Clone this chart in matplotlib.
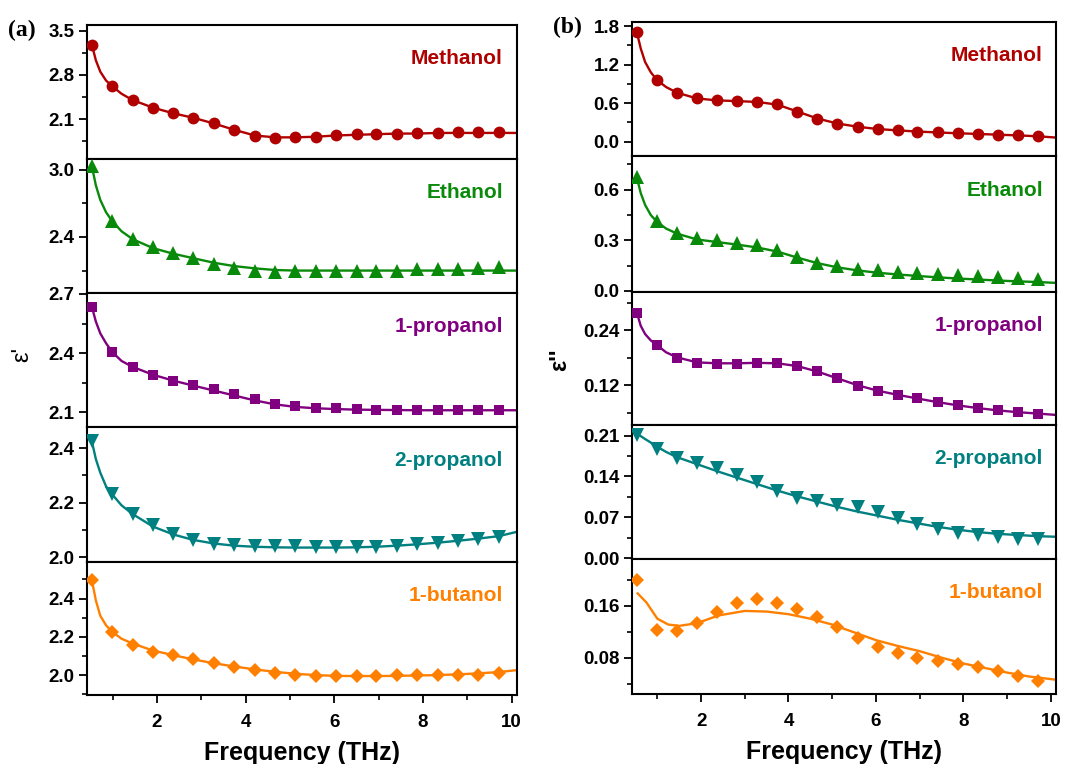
import matplotlib
matplotlib.use("Agg")
import matplotlib.pyplot as plt
from matplotlib.ticker import MultipleLocator, FixedLocator, FormatStrFormatter

plt.rcParams['font.family'] = ['Liberation Sans', 'DejaVu Sans']

# ---------------- data ----------------
freq = [0.53, 0.99, 1.45, 1.91, 2.37, 2.82, 3.28, 3.74, 4.20, 4.66, 5.12,
        5.58, 6.04, 6.50, 6.95, 7.41, 7.87, 8.33, 8.79, 9.25, 9.71]

names = ["Methanol", "Ethanol", "1-propanol", "2-propanol", "1-butanol"]
colors = ["#B00000", "#0A8A0A", "#800080", "#008080", "#FF8000"]
markers = ["o", "^", "s", "v", "D"]
msizes = [8.5, 9.5, 7.5, 9.5, 7.5]

# real part eps'
eps_r_methanol = [3.28, 2.62, 2.40, 2.28, 2.19, 2.12, 2.03, 1.93, 1.83, 1.80, 1.81,
                  1.82, 1.84, 1.86, 1.86, 1.87, 1.88, 1.88, 1.89, 1.89, 1.89]
eps_r_ethanol = [3.03, 2.54, 2.38, 2.31, 2.26, 2.21, 2.16, 2.12, 2.10, 2.09, 2.10,
                 2.10, 2.10, 2.10, 2.10, 2.10, 2.11, 2.11, 2.11, 2.12, 2.13]
eps_r_1prop = [2.635, 2.405, 2.33, 2.29, 2.26, 2.24, 2.22, 2.19, 2.165, 2.14, 2.13,
               2.12, 2.12, 2.117, 2.113, 2.113, 2.112, 2.112, 2.112, 2.11, 2.11]
eps_r_2prop = [2.425, 2.231, 2.158, 2.117, 2.086, 2.064, 2.049, 2.043, 2.042, 2.042, 2.039,
               2.038, 2.037, 2.036, 2.038, 2.042, 2.047, 2.052, 2.059, 2.066, 2.074]
eps_r_1but = [2.496, 2.226, 2.155, 2.122, 2.104, 2.083, 2.064, 2.040, 2.026, 2.012, 2.002,
              1.995, 1.995, 1.995, 1.997, 1.998, 1.998, 1.998, 1.998, 2.002, 2.009]

# imaginary part eps''
eps_i_methanol = [1.706, 0.960, 0.762, 0.673, 0.642, 0.631, 0.621, 0.584, 0.464, 0.355, 0.277,
                  0.230, 0.193, 0.177, 0.157, 0.146, 0.130, 0.120, 0.110, 0.099, 0.083]
eps_i_ethanol = [0.674, 0.414, 0.344, 0.312, 0.300, 0.284, 0.270, 0.244, 0.200, 0.168, 0.148,
                 0.132, 0.122, 0.114, 0.108, 0.102, 0.092, 0.086, 0.082, 0.078, 0.072]
eps_i_1prop = [0.279, 0.209, 0.180, 0.169, 0.166, 0.166, 0.168, 0.169, 0.162, 0.151, 0.135,
               0.118, 0.107, 0.099, 0.091, 0.084, 0.076, 0.071, 0.065, 0.062, 0.058]
eps_i_2prop = [0.211, 0.187, 0.172, 0.163, 0.154, 0.143, 0.130, 0.116, 0.104, 0.098, 0.092,
               0.088, 0.080, 0.069, 0.058, 0.051, 0.044, 0.040, 0.036, 0.034, 0.033]
eps_i_1but = [0.1995, 0.1226, 0.121, 0.1328, 0.1497, 0.1646, 0.170, 0.1646, 0.1549, 0.143, 0.127,
              0.111, 0.096, 0.0867, 0.079, 0.0748, 0.0697, 0.0661, 0.0595, 0.0523, 0.0446]

# fitted curves
fit_x_a = [0.53, 0.62, 0.72, 0.85, 0.99, 1.2, 1.45, 1.91, 2.37, 2.82, 3.28, 3.74, 4.20,
           4.66, 5.12, 5.58, 6.04, 6.50, 6.95, 7.41, 7.87, 8.33, 8.79, 9.25, 9.71, 10.12]
fit_r_methanol = [3.28, 3.03, 2.85, 2.71, 2.62, 2.50, 2.40, 2.28, 2.19, 2.12, 2.03, 1.93, 1.84,
                  1.81, 1.81, 1.82, 1.84, 1.85, 1.86, 1.87, 1.87, 1.88, 1.88, 1.88, 1.88, 1.88]
fit_r_ethanol = [3.03, 2.86, 2.73, 2.62, 2.54, 2.45, 2.38, 2.30, 2.25, 2.21, 2.17, 2.14, 2.12,
                 2.105, 2.10, 2.10, 2.10, 2.10, 2.10, 2.10, 2.10, 2.10, 2.10, 2.10, 2.10, 2.10]
fit_r_1prop = [2.635, 2.56, 2.50, 2.45, 2.405, 2.36, 2.33, 2.29, 2.26, 2.235, 2.21, 2.185, 2.16,
               2.14, 2.127, 2.12, 2.116, 2.113, 2.112, 2.111, 2.11, 2.11, 2.11, 2.11, 2.11, 2.11]
fit_r_2prop = [2.425, 2.36, 2.31, 2.26, 2.23, 2.19, 2.158, 2.112, 2.083, 2.063, 2.050, 2.042, 2.038,
               2.036, 2.035, 2.035, 2.035, 2.036, 2.038, 2.042, 2.047, 2.053, 2.060, 2.068, 2.077, 2.093]
fit_r_1but = [2.496, 2.39, 2.31, 2.26, 2.226, 2.19, 2.165, 2.128, 2.104, 2.082, 2.062, 2.045, 2.030,
              2.017, 2.007, 2.000, 1.996, 1.995, 1.995, 1.996, 1.998, 2.000, 2.004, 2.009, 2.016, 2.026]

fit_i_methanol = [1.706, 1.45, 1.24, 1.08, 0.960, 0.85, 0.762, 0.672, 0.642, 0.631, 0.618, 0.577,
                  0.470, 0.360, 0.282, 0.232, 0.196, 0.175, 0.157, 0.143, 0.130, 0.120, 0.108,
                  0.097, 0.083, 0.063]
fit_i_ethanol = [0.674, 0.58, 0.51, 0.45, 0.410, 0.37, 0.340, 0.305, 0.290, 0.275, 0.258, 0.234,
                 0.198, 0.165, 0.140, 0.122, 0.108, 0.098, 0.089, 0.081, 0.074, 0.068, 0.062,
                 0.057, 0.053, 0.048]
fit_i_1prop = [0.279, 0.250, 0.232, 0.218, 0.208, 0.192, 0.181, 0.170, 0.168, 0.168, 0.169, 0.168,
               0.162, 0.150, 0.135, 0.120, 0.108, 0.099, 0.091, 0.083, 0.076, 0.070, 0.065,
               0.061, 0.058, 0.055]
fit_i_2prop = [0.213, 0.209, 0.204, 0.198, 0.191, 0.182, 0.173, 0.161, 0.149, 0.138, 0.127, 0.116,
               0.106, 0.097, 0.088, 0.080, 0.073, 0.066, 0.060, 0.054, 0.049, 0.045, 0.042,
               0.040, 0.038, 0.037]
fit_i_1but_x = [0.55, 0.75, 1.0, 1.25, 1.5, 1.9, 2.4, 3.0, 3.5, 4.0, 4.5, 5.0, 5.5, 6.0, 6.5,
                7.0, 7.5, 8.0, 8.5, 9.0, 9.5, 10.12]
fit_i_1but = [0.179, 0.165, 0.140, 0.131, 0.129, 0.133, 0.145, 0.152, 0.151, 0.147, 0.140, 0.131,
              0.119, 0.107, 0.098, 0.090, 0.080, 0.071, 0.064, 0.057, 0.051, 0.046]

real_data = [eps_r_methanol, eps_r_ethanol, eps_r_1prop, eps_r_2prop, eps_r_1but]
imag_data = [eps_i_methanol, eps_i_ethanol, eps_i_1prop, eps_i_2prop, eps_i_1but]
real_fits = [(fit_x_a, fit_r_methanol), (fit_x_a, fit_r_ethanol), (fit_x_a, fit_r_1prop),
             (fit_x_a, fit_r_2prop), (fit_x_a, fit_r_1but)]
imag_fits = [(fit_x_a, fit_i_methanol), (fit_x_a, fit_i_ethanol), (fit_x_a, fit_i_1prop),
             (fit_x_a, fit_i_2prop), (fit_i_1but_x, fit_i_1but)]

real_ylims = [(1.467, 3.59), (1.90, 3.095), (2.025, 2.705), (1.982, 2.478), (1.896, 2.591)]
real_major = [0.7, 0.6, 0.3, 0.2, 0.2]
imag_ylims = [(-0.224, 1.863), (-0.006, 0.80), (0.033, 0.324), (-0.001, 0.228), (0.024, 0.232)]
imag_major = [0.6, 0.3, 0.12, 0.07, 0.08]
imag_fmt = ["%.1f", "%.1f", "%.2f", "%.2f", "%.2f"]
real_fmt = ["%.1f"] * 5

# --------------- layout ---------------
W, H = 1089, 764
fig = plt.figure(figsize=(W / 100, H / 100), dpi=100)

left_bounds = [25, 159, 293, 427, 562, 695]
right_bounds = [22, 156, 292, 425, 559, 694]
xlim = (0.42, 10.12)


def make_panel(x0, x1, bounds, data, fits, ylims, majors, fmts, label_x):
    axes = []
    for i in range(5):
        top, bot = bounds[i], bounds[i + 1]
        ax = fig.add_axes([x0 / W, 1 - bot / H, (x1 - x0) / W, (bot - top) / H])
        ax.plot(fits[i][0], fits[i][1], '-', color=colors[i], lw=1.7, zorder=2)
        ax.plot(freq, data[i], linestyle='none', marker=markers[i], ms=msizes[i],
                color=colors[i], markeredgewidth=0, zorder=3)
        ax.set_xlim(*xlim)
        ax.set_ylim(*ylims[i])
        m = majors[i]
        ax.yaxis.set_major_locator(MultipleLocator(m))
        ax.yaxis.set_minor_locator(MultipleLocator(m / 2))
        ax.yaxis.set_major_formatter(FormatStrFormatter(fmts[i]))
        ax.xaxis.set_major_locator(FixedLocator([2, 4, 6, 8, 10]))
        ax.xaxis.set_minor_locator(FixedLocator([1, 3, 5, 7, 9]))
        ax.tick_params(axis='y', which='major', direction='out', length=6, width=1.3,
                       labelsize=13.5, pad=3)
        ax.tick_params(axis='y', which='minor', direction='out', length=3.5, width=1.2)
        ax.tick_params(axis='x', which='major', direction='out', length=6, width=1.3,
                       labelsize=13.5, pad=8)
        ax.tick_params(axis='x', which='minor', direction='out', length=3.5, width=1.2)
        for sp in ax.spines.values():
            sp.set_linewidth(1.5)
        if i < 4:
            ax.tick_params(axis='x', which='both', bottom=False, labelbottom=False)
        ax.text(label_x, 0.75, names[i], transform=ax.transAxes, ha='right', va='center',
                color=colors[i], fontsize=15, fontweight='bold')
        axes.append(ax)
    return axes


axl = make_panel(87, 517, left_bounds, real_data, real_fits, real_ylims, real_major,
                 real_fmt, 0.967)
axr = make_panel(632, 1056, right_bounds, imag_data, imag_fits, imag_ylims, imag_major,
                 imag_fmt, 0.969)

for ax in axl + axr:
    for lab in ax.get_yticklabels() + ax.get_xticklabels():
        lab.set_fontweight('bold')

axl[-1].set_xlabel("Frequency (THz)", fontsize=18, fontweight='bold', labelpad=7)
axr[-1].set_xlabel("Frequency (THz)", fontsize=18, fontweight='bold', labelpad=7)

fig.text(22 / W, 1 - 354 / H, "ε'", rotation=90, ha='center', va='center', fontsize=17)
fig.text(560 / W, 1 - 360 / H, "ε''", rotation=90, ha='center', va='center', fontsize=17,
         fontweight='bold')

fig.text(8 / W, 1 - 30 / H, "(a)", fontsize=17, fontweight='bold', family='Liberation Serif',
         ha='left', va='center')
fig.text(553 / W, 1 - 27 / H, "(b)", fontsize=17, fontweight='bold', family='Liberation Serif',
         ha='left', va='center')

fig.savefig("out.png", dpi=100)
